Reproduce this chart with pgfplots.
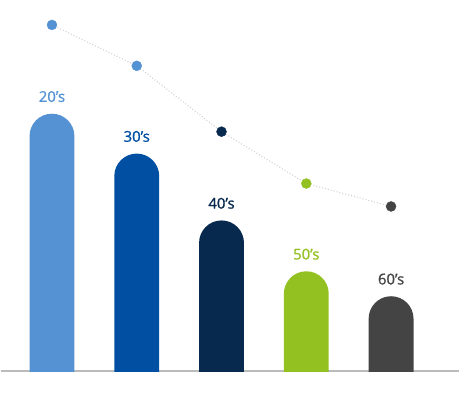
\documentclass[border=0pt]{standalone}
\usepackage{fontspec}
\setmainfont{Open Sans}
\newfontfamily\lab{Open Sans}[FakeBold=1]
\usepackage{pgfplots}
\pgfplotsset{compat=1.18}
\definecolor{cA}{HTML}{5592D3}
\definecolor{cB}{HTML}{004FA3}
\definecolor{cC}{HTML}{08294E}
\definecolor{cD}{HTML}{92C121}
\definecolor{cE}{HTML}{444444}
\definecolor{lineg}{HTML}{D2D2D2}
\definecolor{baseg}{HTML}{BBBBBB}
% bar half-width in x units (45bp bar, 85bp per category)
\def\hw{0.264706}
\begin{document}
\begin{tikzpicture}
\begin{axis}[
  scale only axis, width=460bp, height=372bp,
  xmin=-0.605882, xmax=4.805882, ymin=0, ymax=372,
  axis x line=bottom, axis y line=none,
  x axis line style={-, draw=baseg, line width=1.2bp},
  xtick=\empty, ytick=\empty,
  every node near coord/.append style={font=\lab\fontsize{15}{17}\selectfont, inner sep=0pt, anchor=south, yshift=11.5bp},
]
% bars with rounded tops (the lower corners lie below the baseline and are clipped)
\addplot[fill=cA, draw=none, rounded corners=22.5bp] coordinates {(0-\hw,-40) (0-\hw,258) (0+\hw,258) (0+\hw,-40)} -- cycle;
\addplot[fill=cB, draw=none, rounded corners=22.5bp] coordinates {(1-\hw,-40) (1-\hw,218) (1+\hw,218) (1+\hw,-40)} -- cycle;
\addplot[fill=cC, draw=none, rounded corners=22.5bp] coordinates {(2-\hw,-40) (2-\hw,151) (2+\hw,151) (2+\hw,-40)} -- cycle;
\addplot[fill=cD, draw=none, rounded corners=22.5bp] coordinates {(3-\hw,-40) (3-\hw,100) (3+\hw,100) (3+\hw,-40)} -- cycle;
\addplot[fill=cE, draw=none, rounded corners=22.5bp] coordinates {(4-\hw,-40) (4-\hw,75) (4+\hw,75) (4+\hw,-40)} -- cycle;
% labels above the bars
\addplot[draw=none, mark=none, nodes near coords={20’s}, every node near coord/.append style={text=cA}] coordinates {(0,258)};
\addplot[draw=none, mark=none, nodes near coords={30’s}, every node near coord/.append style={text=cB}] coordinates {(1,218)};
\addplot[draw=none, mark=none, nodes near coords={40’s}, every node near coord/.append style={text=cC}] coordinates {(2,151)};
\addplot[draw=none, mark=none, nodes near coords={50’s}, every node near coord/.append style={text=cD}] coordinates {(3,100)};
\addplot[draw=none, mark=none, nodes near coords={60’s}, every node near coord/.append style={text=cE}] coordinates {(4,75)};
% dotted line
\addplot[lineg, line width=1.1bp, dash pattern=on 1bp off 2bp, mark=none]
  coordinates {(0,347) (1,306) (2,240) (3,188) (4,165)};
\addplot[cA, only marks, mark=*, mark size=5bp, mark options={solid, fill=cA, draw=none}] coordinates {(0,347)};
\addplot[cA, only marks, mark=*, mark size=5bp, mark options={solid, fill=cA, draw=none}] coordinates {(1,306)};
\addplot[cC, only marks, mark=*, mark size=5bp, mark options={solid, fill=cC, draw=none}] coordinates {(2,240)};
\addplot[cD, only marks, mark=*, mark size=5bp, mark options={solid, fill=cD, draw=none}] coordinates {(3,188)};
\addplot[cE, only marks, mark=*, mark size=5bp, mark options={solid, fill=cE, draw=none}] coordinates {(4,165)};
\end{axis}
\path (current axis.south west) ++(0,-22bp) rectangle (current axis.north east);
\end{tikzpicture}
\end{document}
